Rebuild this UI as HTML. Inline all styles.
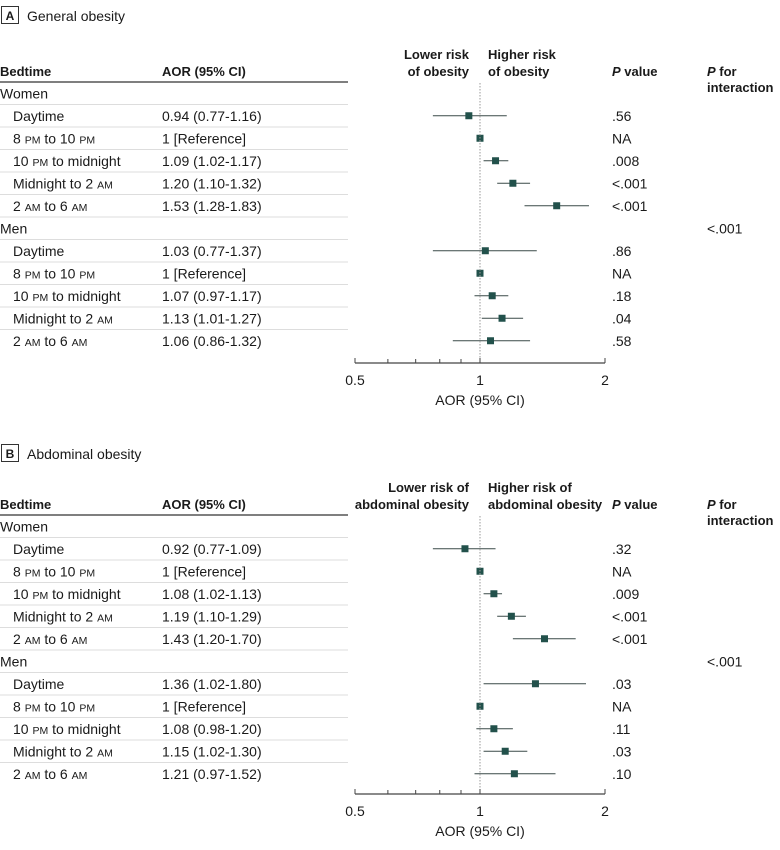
<!DOCTYPE html>
<html><head><meta charset="utf-8">
<style>
body{margin:0;background:#fff;}
svg{display:block;font-family:"Liberation Sans Narrow","Liberation Sans",sans-serif;font-size:14px;fill:#1a1a1a;}
.sc{font-size:10.5px;}
.hd{font-size:13px;font-weight:bold;}
</style></head>
<body>
<svg id="chart" width="780" height="850" viewBox="0 0 780 850"></svg>
<script>
const labels=["Daytime","8 PM to 10 PM","10 PM to midnight","Midnight to 2 AM","2 AM to 6 AM"];
const aorA_women=[0.94,1,1.09,1.20,1.53];
const loA_women=[0.77,1,1.02,1.10,1.28];
const hiA_women=[1.16,1,1.17,1.32,1.83];
const aorA_men=[1.03,1,1.07,1.13,1.06];
const loA_men=[0.77,1,0.97,1.01,0.86];
const hiA_men=[1.37,1,1.17,1.27,1.32];
const txtA_women=["0.94 (0.77-1.16)","1 [Reference]","1.09 (1.02-1.17)","1.20 (1.10-1.32)","1.53 (1.28-1.83)"];
const txtA_men=["1.03 (0.77-1.37)","1 [Reference]","1.07 (0.97-1.17)","1.13 (1.01-1.27)","1.06 (0.86-1.32)"];
const pA_women=[".56","NA",".008","<.001","<.001"];
const pA_men=[".86","NA",".18",".04",".58"];
const aorB_women=[0.92,1,1.08,1.19,1.43];
const loB_women=[0.77,1,1.02,1.10,1.20];
const hiB_women=[1.09,1,1.13,1.29,1.70];
const aorB_men=[1.36,1,1.08,1.15,1.21];
const loB_men=[1.02,1,0.98,1.02,0.97];
const hiB_men=[1.80,1,1.20,1.30,1.52];
const txtB_women=["0.92 (0.77-1.09)","1 [Reference]","1.08 (1.02-1.13)","1.19 (1.10-1.29)","1.43 (1.20-1.70)"];
const txtB_men=["1.36 (1.02-1.80)","1 [Reference]","1.08 (0.98-1.20)","1.15 (1.02-1.30)","1.21 (0.97-1.52)"];
const pB_women=[".32","NA",".009","<.001","<.001"];
const pB_men=[".03","NA",".11",".03",".10"];
const ticks=[0.5,1,2];
const minorTicks=[0.6,0.7,0.8,0.9];

const svg=document.getElementById('chart');
const NS='http://www.w3.org/2000/svg';
const xs=v=>480+125*Math.log2(v);
function el(tag,attrs,parent){const e=document.createElementNS(NS,tag);for(const k in attrs)e.setAttribute(k,attrs[k]);(parent||svg).appendChild(e);return e;}
function txt(x,y,s,opts,name){
  const t=el('text',Object.assign({x:x,y:y},opts||{}));
  
  
  const parts=s.split(/\b(AM|PM)\b/);
  parts.forEach(p=>{const sp=el('tspan',{},t);if(p==='AM'||p==='PM'){sp.setAttribute('class','sc');}sp.textContent=p;});
  return t;
}
function panel(o){
  const g=el('g',{});
  
  
  const b=el('rect',{x:1.5,y:o.top-11.5,width:17,height:17,fill:'none',stroke:'#333','stroke-width':1},g);
  
  
  g.appendChild(txt(10,o.top+2,o.letter,{'text-anchor':'middle','font-weight':'bold','font-size':'12'},'panel-letter'));
  g.appendChild(txt(27,o.top+3,o.title,{},'panel-title'));
  const h=o.head;
  g.appendChild(txt(0,h+5,"Bedtime",{'class':'hd'},'bedtime-header'));
  g.appendChild(txt(162,h+5,"AOR (95% CI)",{'class':'hd'},'aor-header'));
  g.appendChild(txt(469,h-12,o.lower[0],{'text-anchor':'end','class':'hd'},'lower-risk-label'));
  g.appendChild(txt(469,h+5,o.lower[1],{'text-anchor':'end','class':'hd'},'lower-risk-label'));
  g.appendChild(txt(488,h-12,o.higher[0],{'class':'hd'},'higher-risk-label'));
  g.appendChild(txt(488,h+5,o.higher[1],{'class':'hd'},'higher-risk-label'));
  const pv=el('text',{x:612,y:h+5,'class':'hd'},g);pv.innerHTML='<tspan font-style="italic">P</tspan> value';
  
  const pi=el('text',{x:707,y:h+5,'class':'hd'},g);pi.innerHTML='<tspan font-style="italic">P</tspan> for';
  
  g.appendChild(txt(707,h+21,"interaction",{'class':'hd'},'p-interaction-header'));
  const hl=el('line',{x1:0,x2:348,y1:h+11,y2:h+11,stroke:'#555','stroke-width':1.5},g);
  
  const step=22.5;
  let y=h+11;
  const groups=[["Women",o.w],["Men",o.m]];
  groups.forEach((gr,gi)=>{
    const gy=y+step/2;
    g.appendChild(txt(0,gy+5,gr[0],{},'group-label-'+gr[0].toLowerCase()));
    if(gi===1) g.appendChild(txt(707,gy+5,"<.001",{},'p-interaction-value'));
    y+=step;
    const d=gr[1];
    for(let i=0;i<labels.length;i++){
      const sep=el('line',{x1:0,x2:348,y1:y,y2:y,stroke:'#ddd','stroke-width':1},g);
      
      const ry=y+step/2;
      g.appendChild(txt(13,ry+5,labels[i],{},'row-label'));
      g.appendChild(txt(162,ry+5,d.txt[i],{},'aor-text'));
      g.appendChild(txt(612,ry+5,d.p[i],{},'p-value'));
      const ci=el('line',{x1:xs(d.lo[i]),x2:xs(d.hi[i]),y1:ry,y2:ry,stroke:'#3a4a48','stroke-width':1},g);
      
      const m=el('rect',{x:xs(d.aor[i])-3.5,y:ry-3.5,width:7,height:7,fill:'#22514b'},g);
      
      y+=step;
    }
    if(gi===0){const sep=el('line',{x1:0,x2:348,y1:y,y2:y,stroke:'#ddd','stroke-width':1},g);
      }
  });
  const ax=o.axis;
  const ref=el('line',{x1:xs(1),x2:xs(1),y1:h+12,y2:ax,stroke:'#999','stroke-width':1,'stroke-dasharray':'1.5,1.5'},g);
  
  const al=el('line',{x1:xs(0.5),x2:xs(2),y1:ax,y2:ax,stroke:'#444','stroke-width':1.2},g);
  
  ticks.forEach(t=>{
    const tl=el('line',{x1:xs(t),x2:xs(t),y1:ax-5,y2:ax,stroke:'#444'},g);
    
    g.appendChild(txt(xs(t),ax+22,String(t),{'text-anchor':'middle'},'x-tick-label'));
  });
  minorTicks.forEach(t=>{
    const tl=el('line',{x1:xs(t),x2:xs(t),y1:ax-4,y2:ax,stroke:'#444'},g);
    
  });
  g.appendChild(txt(xs(1),ax+42,"AOR (95% CI)",{'text-anchor':'middle'},'x-axis-title'));
}
panel({name:'panel-a-general-obesity',letter:'A',title:'General obesity',top:18,head:71,axis:363,
  lower:["Lower risk","of obesity"],higher:["Higher risk","of obesity"],
  w:{aor:aorA_women,lo:loA_women,hi:hiA_women,txt:txtA_women,p:pA_women},
  m:{aor:aorA_men,lo:loA_men,hi:hiA_men,txt:txtA_men,p:pA_men}});
panel({name:'panel-b-abdominal-obesity',letter:'B',title:'Abdominal obesity',top:456,head:504,axis:794,
  lower:["Lower risk of","abdominal obesity"],higher:["Higher risk of","abdominal obesity"],
  w:{aor:aorB_women,lo:loB_women,hi:hiB_women,txt:txtB_women,p:pB_women},
  m:{aor:aorB_men,lo:loB_men,hi:hiB_men,txt:txtB_men,p:pB_men}});
</script>
</body></html>
